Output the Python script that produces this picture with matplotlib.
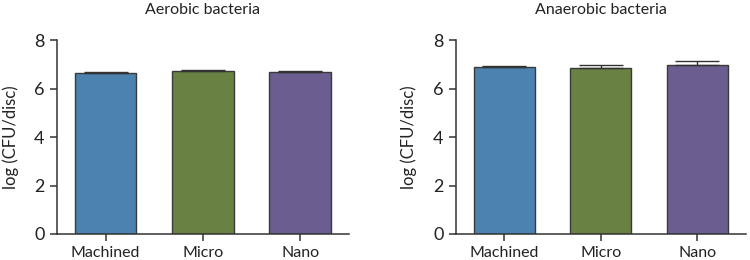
import matplotlib
matplotlib.use("Agg")
import matplotlib.pyplot as plt

categories = ["Machined", "Micro", "Nano"]
aerobic_means = [6.63, 6.73, 6.70]
aerobic_err = [0.05, 0.05, 0.04]
anaerobic_means = [6.89, 6.83, 6.97]
anaerobic_err = [0.05, 0.14, 0.16]
titles = ["Aerobic bacteria", "Anaerobic bacteria"]
ylabel = "log (CFU/disc)"
yticks = [0, 2, 4, 6, 8]
colors = ["#4b82b0", "#698244", "#6c5d91"]

plt.rcParams['font.family'] = ['Lato', 'DejaVu Sans']

fig = plt.figure(figsize=(7.5, 2.6), dpi=100)
positions = [[0.076, 0.1, 0.389, 0.746], [0.608, 0.1, 0.386, 0.746]]
data = [(aerobic_means, aerobic_err), (anaerobic_means, anaerobic_err)]
ylabel_x = [11 / 750, 409 / 750]

for i, (pos, (means, errs)) in enumerate(zip(positions, data)):
    ax = fig.add_axes(pos)
    x = list(range(len(categories)))
    ax.bar(x, means, width=0.63, color=colors, edgecolor="#3a3a3a", linewidth=1.0, zorder=2)
    ax.errorbar(x, means, yerr=[[0] * len(errs), errs], fmt="none", ecolor="#333333",
                elinewidth=1.0, capsize=16, capthick=1.0, zorder=3)
    ax.set_xlim(-0.5, 2.5)
    ax.set_ylim(0, 8)
    ax.set_yticks(yticks)
    ax.set_xticks(x)
    ax.set_xticklabels(categories)
    for s in ["top", "right"]:
        ax.spines[s].set_visible(False)
    for s in ["left", "bottom"]:
        ax.spines[s].set_color("#333333")
        ax.spines[s].set_linewidth(1.1)
    ax.tick_params(axis="both", colors="#333333", length=5, width=1.1,
                   labelcolor="#222222")
    ax.tick_params(axis="x", labelsize=11.5)
    ax.tick_params(axis="y", labelsize=13, pad=4)
    ax.set_title(titles[i], fontsize=11.5, color="#222222", pad=19)
    fig.text(ylabel_x[i], 0.1 + 0.746 / 2, ylabel, rotation=90, va="center", ha="center",
             fontsize=12, color="#222222")

fig.savefig("out.png", dpi=100)
